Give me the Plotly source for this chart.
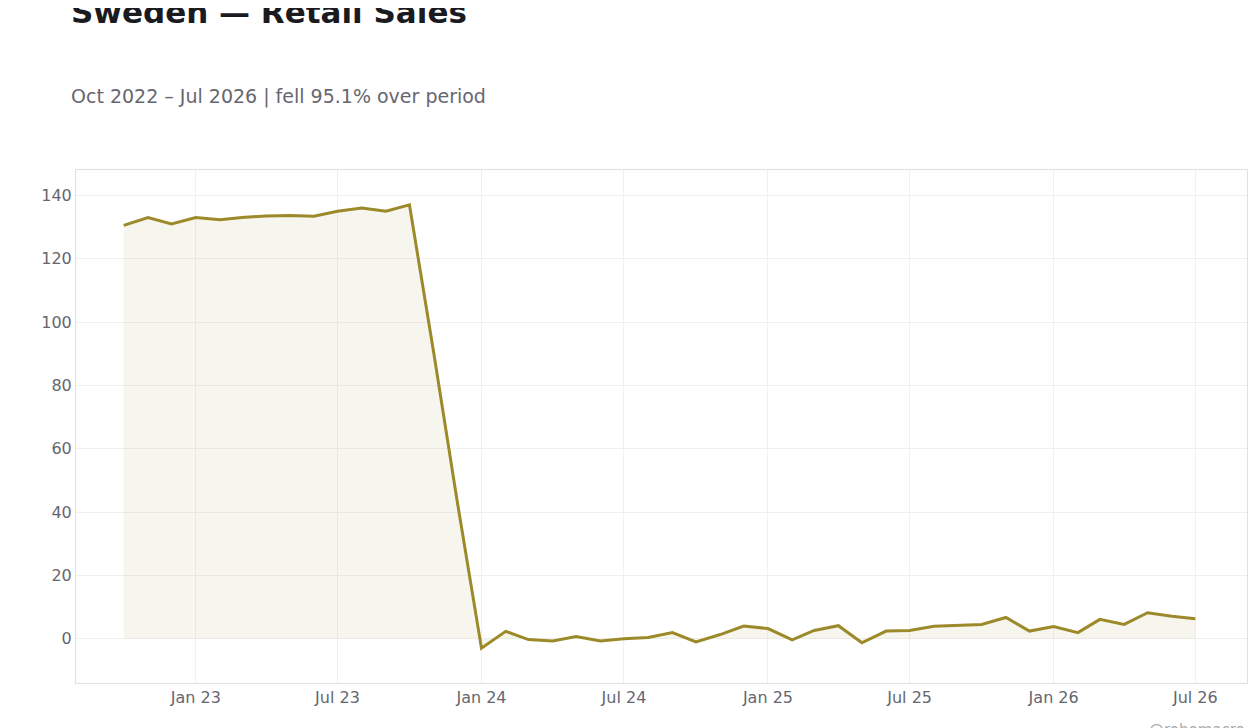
import plotly.graph_objects as go
import pandas as pd

dates = pd.date_range("2022-10-01", "2026-07-01", freq="MS")
values = [130.5, 133.0, 131.0,
          133.0, 132.3, 133.0, 133.5, 133.6, 133.4, 135.0, 136.0, 135.0, 137.0, 90.3, 43.4,
          -3.0, 2.3, -0.3, -0.7, 0.7, -0.7, 0.0, 0.4, 1.9, -1.0, 1.3, 4.0,
          3.2, -0.4, 2.6, 4.1, -1.3, 2.4, 2.6, 3.9, 4.2, 4.5, 6.7, 2.4,
          3.8, 1.9, 6.1, 4.5, 8.2, 7.1, 6.3]
title = "Sweden — Retail Sales"
subtitle = "Oct 2022 – Jul 2026 | fell 95.1% over period"

fig = go.Figure(go.Scatter(x=dates, y=values, mode="lines",
                           line=dict(color="#9c8a2a", width=3),
                           fill="tozeroy", fillcolor="rgba(156,138,42,0.08)"))
fig.update_layout(
    width=1260, height=728, plot_bgcolor="white", paper_bgcolor="white",
    font=dict(family="DejaVu Sans", color="#666670", size=16),
    margin=dict(l=68, r=21, t=162, b=53),
    title=dict(text=f"<b>{title}</b><br><span style='font-size:19px;color:#666670'> <br>{subtitle}</span>",
               x=0.05, y=0.98, yanchor="top", font=dict(size=31, color="#1a1a1f")),
    showlegend=False,
)
fig.update_xaxes(range=["2022-08-01", "2026-09-05"], tickformat="%b %y",
                 dtick="M6", tick0="2023-01-01", showgrid=True, gridcolor="#f0f0f0",
                 showline=True, linecolor="#e0e0e0", mirror=True, ticks="")
fig.update_yaxes(range=[-14, 148], dtick=20, showgrid=True, gridcolor="#f0f0f0",
                 zeroline=False, showline=True, linecolor="#e0e0e0", mirror=True)
fig.add_annotation(text="@robomacro", xref="paper", yref="paper", x=1, y=-0.07,
                   xanchor="right", yanchor="top", showarrow=False,
                   font=dict(size=15, color="#aaaaaa"))
fig.write_html("out.html")
